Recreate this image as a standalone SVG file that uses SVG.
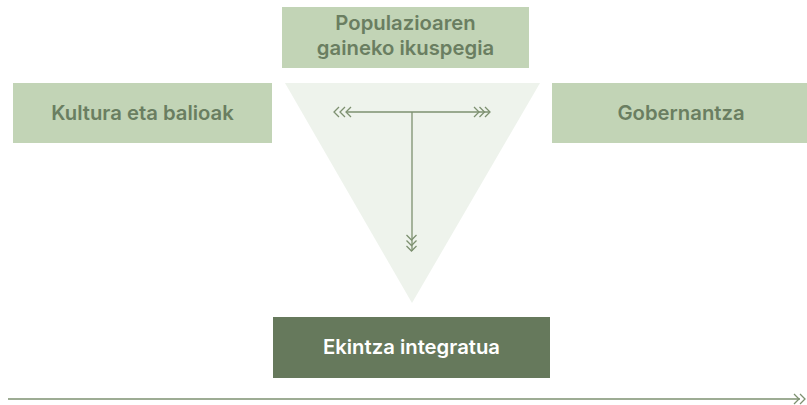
<svg xmlns="http://www.w3.org/2000/svg" width="807" height="405" viewBox="0 0 807 405">
<style>
.box{fill:#c2d4b6}
.lbl{font-family:Inter,"Noto Sans",sans-serif;font-weight:600;font-size:20.3px;fill:#6a7e61;text-anchor:middle}
.dark{fill:#66795c}
.wlbl{font-family:Inter,"Noto Sans",sans-serif;font-weight:600;font-size:20.3px;fill:#ffffff;text-anchor:middle}
.ln{stroke:#7d9070;stroke-width:1.3;fill:none}
</style>
<defs>
<path id="chev" d="M-5,-5 L0,0 L-5,5" class="ln"/>
</defs>
<rect width="807" height="405" fill="#ffffff"/>
<polygon points="285,83 540,83 412,303" fill="#eef3ec"/>
<g id="top">
<rect class="box" x="282" y="7" width="247" height="61"/>
<text class="lbl" x="405.5" y="30">Populazioaren</text>
<text class="lbl" x="405.5" y="55">gaineko ikuspegia</text>
</g>
<g id="left">
<rect class="box" x="13" y="83" width="259" height="60"/>
<text class="lbl" x="142.5" y="120">Kultura eta balioak</text>
</g>
<g id="right">
<rect class="box" x="552" y="83" width="259" height="60"/>
<text class="lbl" x="681" y="120">Gobernantza</text>
</g>
<g id="bottom">
<rect class="dark" x="273" y="317" width="277" height="61"/>
<text class="wlbl" x="411.5" y="354">Ekintza integratua</text>
</g>
<g id="connectors">
<line class="ln" x1="346" y1="112" x2="489" y2="112"/>
<use href="#chev" transform="translate(334,112) rotate(180)"/>
<use href="#chev" transform="translate(340,112) rotate(180)"/>
<use href="#chev" transform="translate(346,112) rotate(180)"/>
<use href="#chev" transform="translate(479,112)"/>
<use href="#chev" transform="translate(484.5,112)"/>
<use href="#chev" transform="translate(490,112)"/>
<line class="ln" x1="412" y1="112" x2="412" y2="251"/>
<use href="#chev" transform="translate(411.5,240) rotate(90)"/>
<use href="#chev" transform="translate(411.5,245.5) rotate(90)"/>
<use href="#chev" transform="translate(411.5,251) rotate(90)"/>
<line class="ln" x1="8" y1="399" x2="800" y2="399"/>
<use href="#chev" transform="translate(799,399)"/>
<use href="#chev" transform="translate(805,399)"/>
</g>
</svg>
